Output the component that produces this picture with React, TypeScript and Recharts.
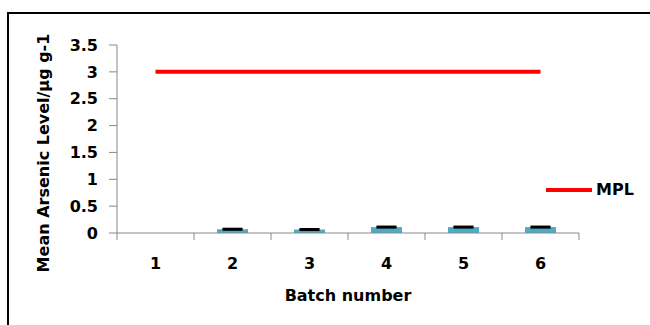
import { Bar, ComposedChart, ErrorBar, Legend, Line, XAxis, YAxis } from "recharts";

const batches = [1, 2, 3, 4, 5, 6];
const arsenic = [null, 0.07, 0.065, 0.11, 0.11, 0.11];
const arsenicErr = [0, 0.01, 0.01, 0.01, 0.01, 0.01];
const mpl = [3, 3, 3, 3, 3, 3];
const yTicks = [0, 0.5, 1, 1.5, 2, 2.5, 3, 3.5];
const xBounds = [0.5, 1.5, 2.5, 3.5, 4.5, 5.5, 6.5];

const data = batches.map((b, i) => ({ batch: b, arsenic: arsenic[i], err: arsenicErr[i], mpl: mpl[i] }));

const FONT = "'DejaVu Sans', sans-serif";
const AXIS = "#898989";

function MplLegend() {
  return (
    <div style={{ display: "flex", alignItems: "center", fontFamily: FONT, fontWeight: "bold", fontSize: 16 }}>
      <svg width={48} height={8}>
        <line x1={0} y1={4} x2={46} y2={4} stroke="#ff0000" strokeWidth={4} />
      </svg>
      <span style={{ marginLeft: 2 }}>MPL</span>
    </div>
  );
}

export default function App() {
  return (
    <div style={{ position: "relative", width: 650, height: 325, overflow: "hidden", background: "#fff" }}>
      <style>{`html,body{margin:0;padding:0;overflow:hidden;}`}</style>
      <div
        style={{
          position: "absolute",
          left: 7,
          top: 12,
          width: 700,
          height: 400,
          borderTop: "2px solid #000",
          borderLeft: "2px solid #000",
        }}
      />
      <div style={{ position: "absolute", left: 0, top: 0 }}>
        <ComposedChart width={650} height={325} data={data} margin={{ top: 45, right: 71, left: 37, bottom: 20 }}>
          <XAxis
            xAxisId="b"
            dataKey="batch"
            type="number"
            domain={[0.5, 6.5]}
            ticks={xBounds}
            tickFormatter={() => ""}
            height={1}
            tickSize={7}
            stroke={AXIS}
            allowDataOverflow
          />
          <XAxis
            xAxisId="lab"
            dataKey="batch"
            type="number"
            domain={[0.5, 6.5]}
            ticks={batches}
            axisLine={false}
            tickLine={false}
            tickSize={8}
            tickMargin={16}
            height={71}
            tick={{ fill: "#000", fontFamily: FONT, fontWeight: "bold", fontSize: 16 }}
            label={{
              value: "Batch number",
              position: "insideBottom",
              offset: 4,
              fill: "#000",
              fontFamily: FONT,
              fontWeight: "bold",
              fontSize: 16,
            }}
          />
          <YAxis
            domain={[0, 3.5]}
            ticks={yTicks}
            width={80}
            tickSize={8}
            tickMargin={11}
            stroke={AXIS}
            tick={{ fill: "#000", fontFamily: FONT, fontWeight: "bold", fontSize: 16 }}
            label={({ viewBox }: any) => (
              <text
                x={viewBox.x + 6}
                y={viewBox.y + viewBox.height / 2 + 14}
                transform={`rotate(-90 ${viewBox.x + 6} ${viewBox.y + viewBox.height / 2 + 14})`}
                textAnchor="middle"
                dominantBaseline="central"
                fill="#000"
                fontFamily={FONT}
                fontWeight="bold"
                fontSize={16}
              >
                Mean Arsenic Level/µg g-1
              </text>
            )}
          />
          <Bar xAxisId="b" dataKey="arsenic" fill="#4bacc6" barSize={31} isAnimationActive={false}>
            <ErrorBar dataKey="err" width={10} stroke="#000" strokeWidth={2} />
          </Bar>
          <Line
            xAxisId="b"
            dataKey="mpl"
            name="MPL"
            stroke="#ff0000"
            strokeWidth={4}
            dot={false}
            type="linear"
            isAnimationActive={false}
          />
          <Legend
            layout="vertical"
            align="center"
            verticalAlign="middle"
            content={<MplLegend />}
            wrapperStyle={{ position: "absolute", left: 546, top: 180, width: "auto" }}
          />
        </ComposedChart>
      </div>
    </div>
  );
}
